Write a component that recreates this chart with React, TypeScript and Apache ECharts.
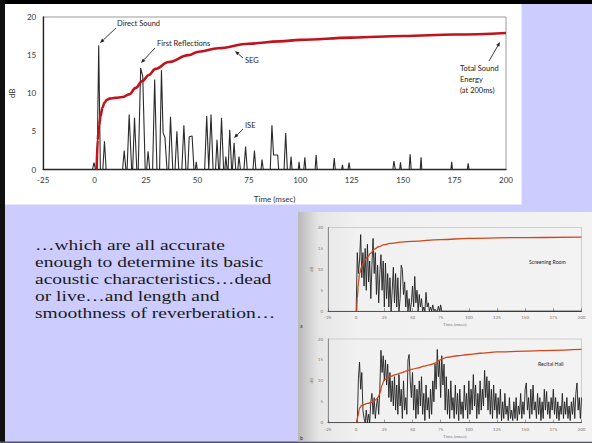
import React, { useEffect, useRef } from "react";
import * as echarts from "echarts";

// ---------- DATA ----------
// Main chart: axes
const mainXTicks = { min: -25, max: 200, interval: 25 };
const mainYTicks = { min: 0, max: 20, interval: 5 };

// Main chart: ISE (integrated sound energy spikes) vertices [time ms, dB]
const iseTime = [
  -25, -1, -0.3, 0.5, 1.2, 2, 2.8, 4, 4.8, 5.6,
  13.6, 14.4, 15.2, 15.8, 16.8, 18, 18.5, 19.4, 20.5, 21.2, 22.4, 23.4, 24.6, 25.3, 26, 26.8,
  28.2, 29.2, 30.3, 31.6, 32.5, 33.3, 34.2, 35.2, 36, 36.9, 38, 39.1, 40, 40.9, 42.4, 43.4, 44.4,
  45.3, 46, 47.4, 48.3, 49, 49.4, 49.9, 53.5, 54.5, 55.5, 55.8, 56.6, 57.6, 58.8, 59.5, 60.3,
  60.8, 61.7, 62.7, 63.3, 63.8, 64.4, 64.9, 65.7, 66.6, 67, 67.8, 68.6, 69.6, 70.2, 70.9,
  72.6, 73.4, 74.2, 77, 77.7, 78.4, 80.9, 81.4, 82, 85.4, 86.2, 87, 89, 89.5, 92.1, 92.9, 93.7,
  95, 95.5, 96, 99, 99.4, 99.8, 101.7, 102.2, 102.7, 107.2, 107.7, 108.2, 116, 116.5, 117,
  120.1, 120.5, 120.9, 123.2, 123.7, 124.2, 145, 145.5, 146.2, 148.3, 148.7, 149.1,
  152.9, 153.4, 153.9, 158.3, 158.7, 159.1, 173.2, 173.6, 174, 181.2, 181.6, 182, 200,
];
const iseDb = [
  0, 0, 0.9, 0, 0, 16.3, 0, 0, 3.7, 0,
  0, 2.5, 0, 0, 7.2, 0, 0, 6.8, 0, 0, 13.3, 12.2, 0, 0, 2.4, 0,
  0, 11.8, 0, 0, 13.0, 4.8, 4.2, 0, 0, 6.9, 0, 0, 5.0, 0, 0, 5.8, 0,
  0, 4.3, 4.4, 0, 0, 1.0, 0, 0, 7.0, 0, 0, 7.2, 0, 0, 3.9, 0,
  0, 6.8, 0, 0, 1.7, 0, 0, 5.2, 0, 0, 3.5, 0, 0, 1.7, 0,
  0, 3.0, 0, 0, 2.5, 0, 0, 1.3, 0, 0, 5.8, 1.9, 1.9, 0, 0, 4.8, 0,
  0, 1.7, 0, 0, 1.0, 0, 0, 1.6, 0, 0, 1.9, 0, 0, 1.5, 0,
  0, 0.6, 0, 0, 0.9, 0, 0, 1.1, 0, 0, 0.95, 0,
  0, 2.0, 0, 0, 1.6, 0, 0, 1.0, 0, 0, 0.8, 0, 0,
];

// Main chart: SEG (sound energy growth) curve
const segTime = [1, 1.5, 2.2, 2.9, 3.8, 4.8, 6, 7.2, 10, 13.6, 16.8, 20, 23.2, 26.4, 29.6, 36, 45.7, 50.5, 60, 75, 90, 100, 125, 150, 175, 200];
const segDb = [0, 3.9, 5.8, 7.0, 8.1, 8.75, 9.15, 9.3, 9.4, 9.5, 9.85, 10.7, 11.6, 12.4, 13.2, 14.1, 15.0, 15.45, 15.9, 16.5, 16.8, 17.0, 17.3, 17.5, 17.7, 17.9];

// Inset a: Screening Room (1 ms samples starting at 0 ms)
const screeningStart = 0;
const screeningIse = [
  0, 14, 9, 12, 18.3, 8, 14, 6, 15, 5, 16, 7, 12, 3, 11, 17.4, 9, 14, 4, 11,
  2, 9, 13.5, 5, 12, 1, 11.5, 3, 9, 1, 8, 0, 5, 10.5, 2, 9, 1, 8, 0, 3,
  11, 10, 4, 7, 1, 5, 0, 3, 0, 2, 6, 1, 8.3, 2, 5, 0, 4, 1, 3, 0,
  1, 0, 4.5, 1, 2, 0, 1, 0, 1.5, 0, 0.5, 0, 0, 1.2, 0, 1.5, 0, 0, 0, 0, 0,
];
const screeningSegTime = [0.5, 1, 2, 3, 5, 7, 10, 13, 16, 20, 25, 30, 40, 50, 75, 100, 150, 200];
const screeningSegDb = [0, 3, 6.8, 9, 10.7, 11.9, 12.9, 13.9, 14.8, 15.4, 15.9, 16.2, 16.5, 16.7, 17.1, 17.4, 17.6, 17.7];

// Inset b: Recital Hall (1 ms samples starting at 0 ms)
const recitalStart = 0;
const recitalIse = [
  0, 0, 10.5, 14.5, 8, 12, 3, 1, 0, 3, 0, 2, 0, 5, 7, 2, 6, 1, 4, 6,
  2, 8, 17.3, 12, 16, 10, 15, 9, 14, 6, 12, 5, 10, 4, 11, 3, 9, 2, 11.5, 4,
  8, 1, 10, 3, 6, 2, 15, 16.3, 10, 6, 12, 3, 9, 1, 8, 2, 10, 4, 11, 2,
  7, 0.5, 9, 3, 6, 1, 8, 2, 10, 5, 14, 8, 17.5, 11, 15, 6, 16, 9, 14, 3,
  11, 2, 8, 1, 10, 3, 6, 1, 9, 2, 7, 0.5, 8, 2, 5, 1, 9, 3, 7, 1,
  10, 2, 8, 3, 11.5, 4, 9, 1, 7, 2, 10, 3, 8, 4, 12.5, 6, 11, 3, 10, 2,
  8, 1, 9, 3, 7, 1, 6, 2, 8, 0.5, 5, 1, 7, 2, 4, 0.5, 6, 1, 3, 0.5,
  5, 1, 6, 0.5, 4, 2, 7, 1, 5, 2, 8, 9.5, 3, 6, 1, 8, 2, 9, 3, 5,
  1, 7, 2, 6, 0.5, 5, 1, 8, 3, 7.5, 2, 5, 1, 6, 3, 8, 2, 6, 1, 5,
  0.5, 4, 2, 7, 1, 5, 2, 6, 1, 4, 0.5, 5, 2, 6, 1, 7, 9.5, 3, 6, 1, 6,
];
const recitalSegTime = [0.5, 1.5, 3, 5, 10, 15, 19, 21, 23, 25, 30, 35, 40, 45, 50, 55, 60, 65, 70, 73, 76, 80, 90, 100, 110, 125, 150, 175, 200];
const recitalSegDb = [0, 1.5, 3.5, 4.2, 4.6, 5.0, 5.8, 7.0, 9.0, 10.3, 11.0, 11.5, 11.9, 12.4, 12.8, 13.1, 13.5, 13.8, 14.2, 14.8, 15.2, 15.6, 16.0, 16.3, 16.6, 16.9, 17.1, 17.3, 17.5];

const bodyLines = [
  "\u2026which are all accurate",
  "enough to determine its basic",
  "acoustic characteristics\u2026dead",
  "or live\u2026and length and",
  "smoothness of reverberation\u2026",
];

const totalEnergyLines = ["Total Sound", "Energy", "(at 200ms)"];

// ---------- HELPERS ----------
const pairs = (xs: number[], ys: number[]) => xs.map((x, i) => [x, ys[i]]);
const sampled = (start: number, ys: number[]) => ys.map((y, i) => [start + i, y]);

function arrow(x1: number, y1: number, x2: number, y2: number) {
  const ang = Math.atan2(y2 - y1, x2 - x1);
  const L = 4.5;
  const W = 1.8;
  const bx = x2 - L * Math.cos(ang);
  const by = y2 - L * Math.sin(ang);
  const px = -Math.sin(ang) * W;
  const py = Math.cos(ang) * W;
  return [
    { type: "line", z: 20, shape: { x1, y1, x2: bx, y2: by }, style: { stroke: "#222", lineWidth: 0.9 } },
    {
      type: "polygon",
      z: 20,
      shape: { points: [[x2, y2], [bx + px, by + py], [bx - px, by - py]] },
      style: { fill: "#222" },
    },
  ];
}

const FONT = "Lato, 'Liberation Sans', sans-serif";

function annText(text: string, x: number, y: number, size = 7.5) {
  return {
    type: "text",
    z: 20,
    x,
    y,
    style: { text, fill: "#222", font: `${size}px ${FONT}`, textVerticalAlign: "middle", textAlign: "left" },
  };
}

function insetAxes(gridIndex: number) {
  const x = {
    gridIndex,
    type: "value",
    min: -25,
    max: 200,
    interval: 25,
    axisLine: { onZero: false, lineStyle: { color: "#333", width: 0.8 } },
    axisTick: { show: true, inside: true, length: 3, lineStyle: { color: "#555", width: 0.6 } },
    splitLine: { show: false },
    axisLabel: { fontSize: 4.5, color: "#777", margin: 4, fontFamily: FONT },
    name: "Time (msec)",
    nameLocation: "middle",
    nameGap: 11,
    nameTextStyle: { fontSize: 4.5, color: "#777", fontFamily: FONT },
  };
  const y = {
    gridIndex,
    type: "value",
    min: 0,
    max: 20,
    interval: 5,
    axisLine: { show: true, onZero: false, lineStyle: { color: "#555", width: 0.6 } },
    axisTick: { show: false },
    splitLine: { show: false },
    axisLabel: { fontSize: 4.5, color: "#777", margin: 5, fontFamily: FONT },
    name: "dB",
    nameLocation: "middle",
    nameGap: 13,
    nameRotate: 90,
    nameTextStyle: { fontSize: 4.5, color: "#777", fontFamily: FONT },
  };
  return { x, y };
}

export default function App() {
  const ref = useRef<HTMLDivElement>(null);

  useEffect(() => {
    if (!ref.current) return;
    document.body.style.margin = "0";
    const chart = echarts.init(ref.current, null, { renderer: "svg" });

    const a = insetAxes(1);
    const b = insetAxes(2);

    const graphics: any[] = [
      // slide frame pieces
      { type: "rect", z: -10, shape: { x: 0, y: 0, width: 592, height: 4 }, style: { fill: "#000" } },
      { type: "rect", z: -10, shape: { x: 0, y: 0, width: 5, height: 443 }, style: { fill: "#111" } },
      { type: "rect", z: -10, shape: { x: 0, y: 441.5, width: 592, height: 1.5 }, style: { fill: "#55556a" } },
      // white chart panel
      { type: "rect", z: -10, shape: { x: 5, y: 4, width: 516.5, height: 200.5 }, style: { fill: "#ffffff" } },
      // inset photo page
      {
        type: "rect",
        z: -10,
        shape: { x: 298, y: 212, width: 294, height: 229.5 },
        style: {
          fill: new echarts.graphic.LinearGradient(0, 0, 1, 0, [
            { offset: 0, color: "#b9b9b9" },
            { offset: 0.07, color: "#e6e6e6" },
            { offset: 0.2, color: "#f1f1f1" },
            { offset: 1, color: "#f3f3f3" },
          ]),
        },
      },
      // annotations on main chart
      annText("Direct Sound", 117, 23),
      ...arrow(116, 28, 100, 43),
      annText("First Reflections", 157, 43),
      ...arrow(155, 48, 141, 63),
      annText("SEG", 245, 60),
      ...arrow(243, 58, 235, 51),
      annText("ISE", 245, 125),
      ...arrow(243, 129, 234, 138),
      ...totalEnergyLines.map((t, i) => annText(t, 460, 68 + i * 11)),
      ...arrow(489, 61, 500, 42),
      // inset labels
      annText("Screening Room", 529, 262, 5.2),
      annText("Recital Hall", 538, 364, 5.2),
      annText("a", 300, 326, 5),
      annText("b", 300, 438, 5),
      // body text
      ...bodyLines.map((t, i) => ({
        type: "text",
        z: 20,
        x: 35,
        y: 245 + i * 17,
        scaleX: 1.3,
        style: {
          text: t,
          fill: "#1a1a1a",
          font: "15px 'Liberation Serif', 'Times New Roman', serif",
          textVerticalAlign: "middle",
          textAlign: "left",
        },
      })),
    ];

    chart.setOption({
      animation: false,
      backgroundColor: "#ccccff",
      graphic: { elements: graphics },
      grid: [
        { left: 38, top: 17, width: 468, height: 152.5, show: true, borderColor: "#9a9a9a", borderWidth: 1, backgroundColor: "transparent" },
        { left: 328, top: 227.5, width: 253.5, height: 83.7, show: true, borderColor: "#b5b5b5", borderWidth: 0.6, backgroundColor: "transparent" },
        { left: 328, top: 339, width: 253.5, height: 83.7, show: true, borderColor: "#b5b5b5", borderWidth: 0.6, backgroundColor: "transparent" },
      ],
      xAxis: [
        {
          gridIndex: 0,
          type: "value",
          ...mainXTicks,
          axisLine: { onZero: false, lineStyle: { color: "#222", width: 1.3 } },
          axisTick: { show: false },
          splitLine: { show: false },
          axisLabel: { fontSize: 8, color: "#333", margin: 6, fontFamily: FONT },
          name: "Time (msec)",
          nameLocation: "middle",
          nameGap: 25,
          nameTextStyle: { fontSize: 8, color: "#333", fontFamily: FONT },
        },
        a.x,
        b.x,
      ],
      yAxis: [
        {
          gridIndex: 0,
          type: "value",
          ...mainYTicks,
          axisLine: { show: true, onZero: false, lineStyle: { color: "#222", width: 1.3 } },
          axisTick: { show: false },
          splitLine: { show: false },
          axisLabel: { fontSize: 8, color: "#333", margin: 7, fontFamily: FONT },
          name: "dB",
          nameLocation: "middle",
          nameGap: 22,
          nameRotate: 90,
          nameTextStyle: { fontSize: 8, color: "#333", fontFamily: FONT },
        },
        a.y,
        b.y,
      ],
      series: [
        {
          name: "ISE",
          type: "line",
          xAxisIndex: 0,
          yAxisIndex: 0,
          data: pairs(iseTime, iseDb),
          showSymbol: false,
          lineStyle: { color: "#2a2a2a", width: 1.1 },
          z: 3,
        },
        {
          name: "SEG",
          type: "line",
          xAxisIndex: 0,
          yAxisIndex: 0,
          data: pairs(segTime, segDb),
          smooth: 0.4,
          smoothMonotone: "x",
          showSymbol: false,
          lineStyle: { color: "#c0141c", width: 2.6 },
          z: 4,
        },
        {
          name: "Screening ISE",
          type: "line",
          xAxisIndex: 1,
          yAxisIndex: 1,
          data: [...sampled(screeningStart, screeningIse), [200, 0]],
          showSymbol: false,
          lineStyle: { color: "#1e1e1e", width: 0.9 },
          z: 3,
        },
        {
          name: "Screening SEG",
          type: "line",
          xAxisIndex: 1,
          yAxisIndex: 1,
          data: pairs(screeningSegTime, screeningSegDb),
          smooth: 0.4,
          smoothMonotone: "x",
          showSymbol: false,
          lineStyle: { color: "#d2461c", width: 1.3 },
          z: 4,
        },
        {
          name: "Recital ISE",
          type: "line",
          xAxisIndex: 2,
          yAxisIndex: 2,
          data: sampled(recitalStart, recitalIse),
          showSymbol: false,
          lineStyle: { color: "#1e1e1e", width: 0.9 },
          z: 3,
        },
        {
          name: "Recital SEG",
          type: "line",
          xAxisIndex: 2,
          yAxisIndex: 2,
          data: pairs(recitalSegTime, recitalSegDb),
          smooth: 0.3,
          smoothMonotone: "x",
          showSymbol: false,
          lineStyle: { color: "#d2461c", width: 1.3 },
          z: 4,
        },
      ],
    });

    return () => chart.dispose();
  }, []);

  return (
    <div
      ref={ref}
      style={{ position: "fixed", left: 0, top: 0, width: 592, height: 443 }}
    />
  );
}
